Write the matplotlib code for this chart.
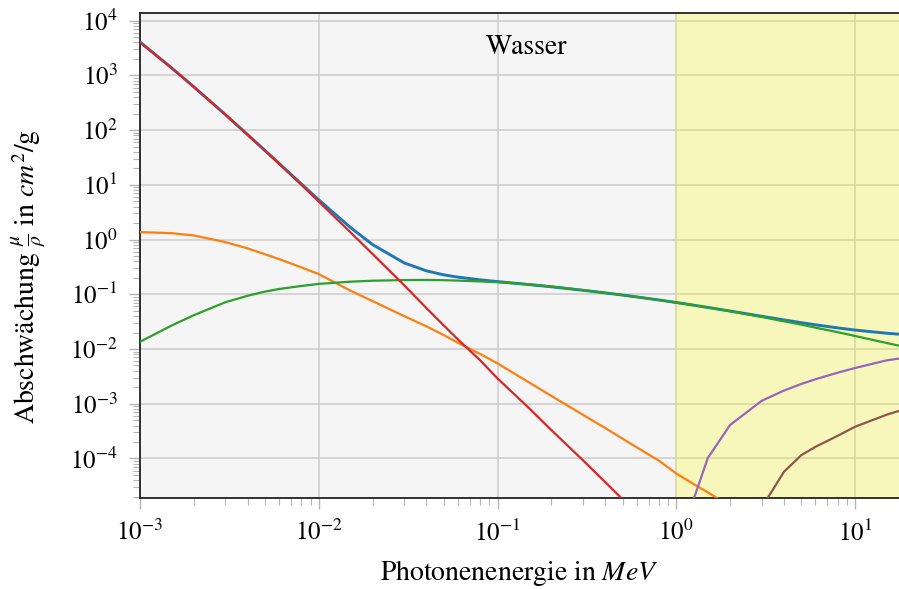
import numpy as np
import matplotlib
matplotlib.use("Agg")
import matplotlib.pyplot as plt
from matplotlib.ticker import LogLocator, NullFormatter

plt.rcParams['font.family'] = ['STIXGeneral', 'DejaVu Serif']
plt.rcParams['mathtext.fontset'] = 'stix'

# photon energy in MeV
energy = [1e-3, 1.5e-3, 2e-3, 3e-3, 4e-3, 5e-3, 6e-3, 8e-3,
          1e-2, 1.5e-2, 2e-2, 3e-2, 4e-2, 5e-2, 6e-2, 8e-2,
          0.1, 0.15, 0.2, 0.3, 0.4, 0.5, 0.6, 0.8,
          1.0, 1.25, 1.5, 2.0, 3.0, 4.0, 5.0, 6.0, 8.0, 10.0, 15.0, 20.0]

# mass attenuation coefficients of water in cm^2/g
total = [4078, 1376, 617.3, 192.9, 82.78, 42.58, 24.64, 10.37,
         5.329, 1.673, 0.8096, 0.3756, 0.2683, 0.2269, 0.2059, 0.1837,
         0.1707, 0.1505, 0.1370, 0.1186, 0.1061, 0.09687, 0.08956, 0.07865,
         0.07072, 0.06323, 0.05754, 0.04942, 0.03969, 0.03403, 0.03031, 0.02770,
         0.02429, 0.02219, 0.01941, 0.01813]
coherent = [1.37, 1.31, 1.19, 0.90, 0.69, 0.54, 0.44, 0.31,
            0.234, 0.117, 0.075, 0.040, 0.026, 0.018, 0.013, 0.0081,
            0.00546, 0.00245, 0.00139, 0.00063, 0.00036, 0.00023, 0.00016, 9.1e-5,
            5.3e-5, 3.4e-5, 2.4e-5, 1.35e-5, 6.0e-6, 3.4e-6, 2.2e-6, 1.5e-6,
            8.5e-7, 5.5e-7, 2.4e-7, 1.4e-7]
incoherent = [0.01355, 0.0268, 0.0415, 0.0715, 0.094, 0.112, 0.125, 0.142,
              0.155, 0.170, 0.177, 0.182, 0.183, 0.181, 0.178, 0.172,
              0.166, 0.152, 0.139, 0.1189, 0.1060, 0.0967, 0.0894, 0.0786,
              0.0707, 0.0632, 0.0574, 0.0490, 0.0385, 0.0321, 0.0279, 0.0246,
              0.0203, 0.0173, 0.0129, 0.0105]
photo = [4000, 1374, 617.2, 192.8, 82.0, 42.0, 24.2, 10.0,
         4.94, 1.37, 0.545, 0.147, 0.056, 0.027, 0.015, 0.0062,
         0.0029, 0.00083, 0.00033, 9.3e-5, 3.7e-5, 1.8e-5, 1.05e-5, 4.8e-6,
         2.7e-6, 1.6e-6, 1.1e-6, 6.0e-7, 2.6e-7, 1.6e-7, 1.1e-7, 8.5e-8,
         5.8e-8, 4.4e-8, 2.8e-8, 2.0e-8]
nan = np.nan
pair_nuc = [nan] * 25 + [1.8e-5, 1.02e-4, 4.1e-4, 1.13e-3, 1.74e-3, 2.3e-3, 2.8e-3,
                         3.7e-3, 4.5e-3, 6.2e-3, 7.1e-3]
pair_el = [nan] * 28 + [1.26e-5, 5.7e-5, 1.15e-4, 1.63e-4,
                        2.6e-4, 3.8e-4, 6.3e-4, 8.4e-4]

fig = plt.figure(figsize=(8.99, 5.89), dpi=100)
ax = fig.add_axes([140/899, 1 - 498.3/589, 759/899, 485.6/589])
ax.set_facecolor('#f5f5f5')

lw = 1.6
ax.plot(energy, total, color='#1f77b4', lw=2.1, zorder=3)
ax.plot(energy, coherent, color='#ff7f0e', lw=lw, zorder=3)
ax.plot(energy, incoherent, color='#2ca02c', lw=lw, zorder=3)
ax.plot(energy, photo, color='#d62728', lw=lw, zorder=3)
ax.plot(energy, pair_nuc, color='#9467bd', lw=lw, zorder=3)
ax.plot(energy, pair_el, color='#8c564b', lw=lw, zorder=3)

# region above 1 MeV
ax.axvspan(1, 100, color='yellow', alpha=0.23, lw=0, zorder=1)

ax.set_xscale('log')
ax.set_yscale('log')
ax.set_xlim(1e-3, 17.6)
ax.set_ylim(1.87e-5, 1.4e4)

for a in (ax.xaxis, ax.yaxis):
    a.set_major_locator(LogLocator(base=10, numticks=20))
    a.set_minor_locator(LogLocator(base=10, subs=np.arange(2, 10), numticks=20))
    a.set_minor_formatter(NullFormatter())

ax.set_axisbelow(True)
ax.grid(which='major', color='#cccccc', lw=1.1)
ax.tick_params(which='major', length=8, width=1, color='#b5b5b5', pad=8, labelsize=18)
ax.tick_params(which='minor', length=5, width=0.8, color='#b5b5b5')
for s in ax.spines.values():
    s.set_color('#222222')
    s.set_linewidth(1.3)
ax.spines['right'].set_visible(False)

ax.text(0.51, 0.929, 'Wasser', transform=ax.transAxes, ha='center', va='center', fontsize=20)

fig.text(519.5/899, 1 - 573/589, r'Photonenenergie in $MeV$', fontsize=20,
         ha='center', va='center')
fig.text(29/899, 1 - 277/589, r'Abschwächung $\frac{\mu}{\rho}$ in $cm^2/\mathrm{g}$', fontsize=20,
         ha='center', va='center', rotation=90)

fig.savefig('out.png', dpi=100)
